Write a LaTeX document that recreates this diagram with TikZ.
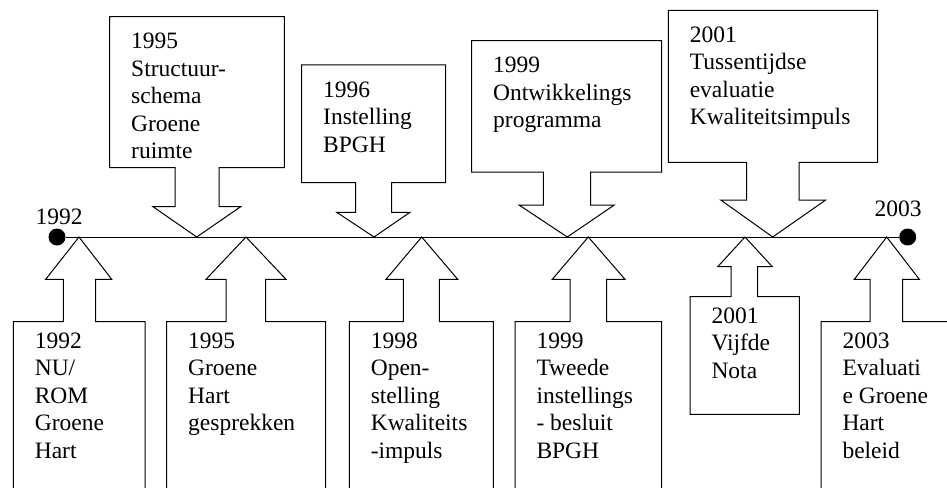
\documentclass[tikz,border=0pt]{standalone}
\usepackage{fontspec}
\setmainfont{Liberation Serif}
\begin{document}
\begin{tikzpicture}[x=1pt,y=-1pt,line width=1pt,
  callout/.style={draw,fill=white,line join=miter},
  calltext/.style={anchor=north west,inner sep=0pt,align=left,
    font=\fontsize{23.5}{27.5}\selectfont},
  yearlabel/.style={anchor=base west,inner sep=0pt,
    font=\fontsize{23.5}{27.5}\selectfont},
  enddot/.style={circle,fill,inner sep=0pt,minimum size=17pt}]

  \clip (0,0) rectangle (947,487);

  % timeline
  \node[enddot] (start) at (57,237) {};
  \node[enddot] (stop) at (907.7,237) {};
  \draw (start) -- (stop);
  \node[yearlabel] (y1992) at (35,224) {1992};
  \node[yearlabel] (y2003) at (874,216.7) {2003};

  % callouts above the line
  \foreach \bl/\br/\bt/\bb/\sl/\sr/\hy/\hl/\hr/\tip/\lab/\txt in {
    109.7/284.3/16.7/167.7/175/219/206.7/153/240.7/196.7/a1995/{1995\\Structuur-\\schema\\Groene\\ruimte},
    301.7/445.7/65/182.7/355.7/391.7/212.3/336.7/410/374/a1996/{1996\\Instelling\\BPGH},
    471.7/661.7/40.7/172/543.3/590.7/205/519/614.3/567.3/a1999/{1999\\Ontwikkelings\\programma},
    668.3/877.7/10.3/162.3/746.7/799/200/720.7/825.7/772.7/a2001/{2001\\Tussentijdse\\evaluatie\\Kwaliteitsimpuls}}{
    \draw[callout] (\bl,\bt) -- (\br,\bt) -- (\br,\bb) -- (\sr,\bb) -- (\sr,\hy)
      -- (\hr,\hy) -- (\tip,237) -- (\hl,\hy) -- (\sl,\hy) -- (\sl,\bb)
      -- (\bl,\bb) -- cycle;
    \node[calltext] (\lab) at (\bl+21,\bt+16) {\txt};
  }

  % callouts below the line
  \foreach \bl/\br/\bt/\bb/\sl/\sr/\hy/\hl/\hr/\tip/\lab/\txt in {
    13.3/145/321.7/520/63.3/95.7/279.3/45.7/111.7/79/b1992/{1992\\NU/\\ROM\\Groene\\Hart},
    166.7/325.7/321.7/520/226/265.7/279.3/206/286/246/b1995/{1995\\Groene\\Hart\\gesprekken},
    349.3/493.3/321.7/520/403.3/439.3/279.3/386/457.7/421.7/b1998/{1998\\Open-\\stelling\\Kwaliteits\\-impuls},
    515/661.7/321.7/520/570/606.7/279.3/552.3/625/588.3/b1999/{1999\\Tweede\\instellings\\- besluit\\BPGH},
    690/799.3/296.7/414.3/731/757.7/266.7/717.7/772.3/745/b2001/{2001\\Vijfde\\Nota},
    821/990/321.7/520/870/902.7/279.3/854.3/919.3/886.7/b2003/{2003\\Evaluati\\e Groene\\Hart\\beleid}}{
    \draw[callout] (\bl,\bb) -- (\bl,\bt) -- (\sl,\bt) -- (\sl,\hy) -- (\hl,\hy)
      -- (\tip,237) -- (\hr,\hy) -- (\sr,\hy) -- (\sr,\bt) -- (\br,\bt)
      -- (\br,\bb) -- cycle;
    \node[calltext] (\lab) at (\bl+21,\bt+10.5) {\txt};
  }
\end{tikzpicture}
\end{document}
